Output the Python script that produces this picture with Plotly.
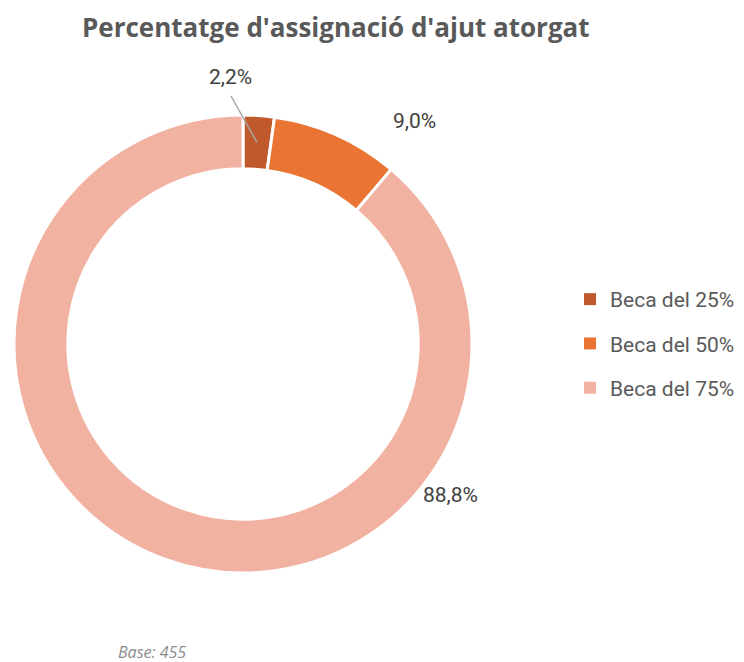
import plotly.graph_objects as go
import math

categories = ["Beca del 25%", "Beca del 50%", "Beca del 75%"]
values = [2.2, 9.0, 88.8]
colors = ["#C0592B", "#E97433", "#F1B2A2"]
label_texts = [f"{v:.1f}".replace(".", ",") + "%" for v in values]

W, H = 744, 662
cx, cy, R = 243, 344, 229
HOLE = 0.765

fig = go.Figure()
fig.add_trace(go.Pie(
    labels=categories, values=values, sort=False, direction="clockwise",
    rotation=0, hole=HOLE, textinfo="none", hoverinfo="label+percent",
    marker=dict(colors=colors, line=dict(color="white", width=3)),
    domain=dict(x=[(cx - R) / W, (cx + R) / W], y=[1 - (cy + R) / H, 1 - (cy - R) / H]),
    showlegend=False,
))

# legend entries (one group each so spacing can be controlled)
for cat, col in zip(categories, colors):
    fig.add_trace(go.Scatter(x=[None], y=[None], mode="markers", name=cat, legendgroup=cat,
                             marker=dict(symbol="square", size=10, color=col), hoverinfo="skip"))

# label placements (pixel offsets of text relative to donut centre)
label_pos = [(-13, -267), (172, -223), (207, 151)]
for t, (dx, dy) in zip(label_texts, label_pos):
    fig.add_annotation(x=(cx + dx) / W, y=1 - (cy + dy) / H, xref="paper", yref="paper",
                       xanchor="center", yanchor="middle",
                       text=t, showarrow=False, font=dict(family="Roboto", size=21, color="#404040"))

# leader line for the small slice
mid = (values[0] / 2) / sum(values) * 2 * math.pi
r_mid = R * (1 + HOLE) / 2
px, py = cx + r_mid * math.sin(mid), cy - r_mid * math.cos(mid)
fig.add_shape(type="line", xref="paper", yref="paper",
              x0=(cx - 12) / W, y0=1 - 96 / H, x1=px / W, y1=1 - py / H,
              line=dict(color="#A6A6A6", width=1.5))

fig.add_annotation(x=336 / W, y=1 - 27 / H, xref="paper", yref="paper",
                   xanchor="center", yanchor="middle",
                   text="<b>Percentatge d'assignació d'ajut atorgat</b>", showarrow=False,
                   font=dict(family="Open Sans", size=26, color="#595959"))
fig.add_annotation(x=116 / W, y=1 - 652 / H, xref="paper", yref="paper",
                   xanchor="left", yanchor="middle",
                   text="<i>Base: 455</i>", showarrow=False,
                   font=dict(family="Open Sans", size=16, color="#8C8C8C"))

fig.update_layout(
    width=W, height=H, margin=dict(l=0, r=0, t=0, b=0),
    paper_bgcolor="white", plot_bgcolor="white",
    xaxis=dict(visible=False), yaxis=dict(visible=False),
    legend=dict(x=570 / W, y=1 - 279 / H, xanchor="left", yanchor="top",
                font=dict(family="Roboto", size=21, color="#595959"),
                tracegroupgap=14, itemsizing="constant"),
)
fig.write_html("out.html", config={"displayModeBar": False},
               post_script="document.body.style.margin='0';")
